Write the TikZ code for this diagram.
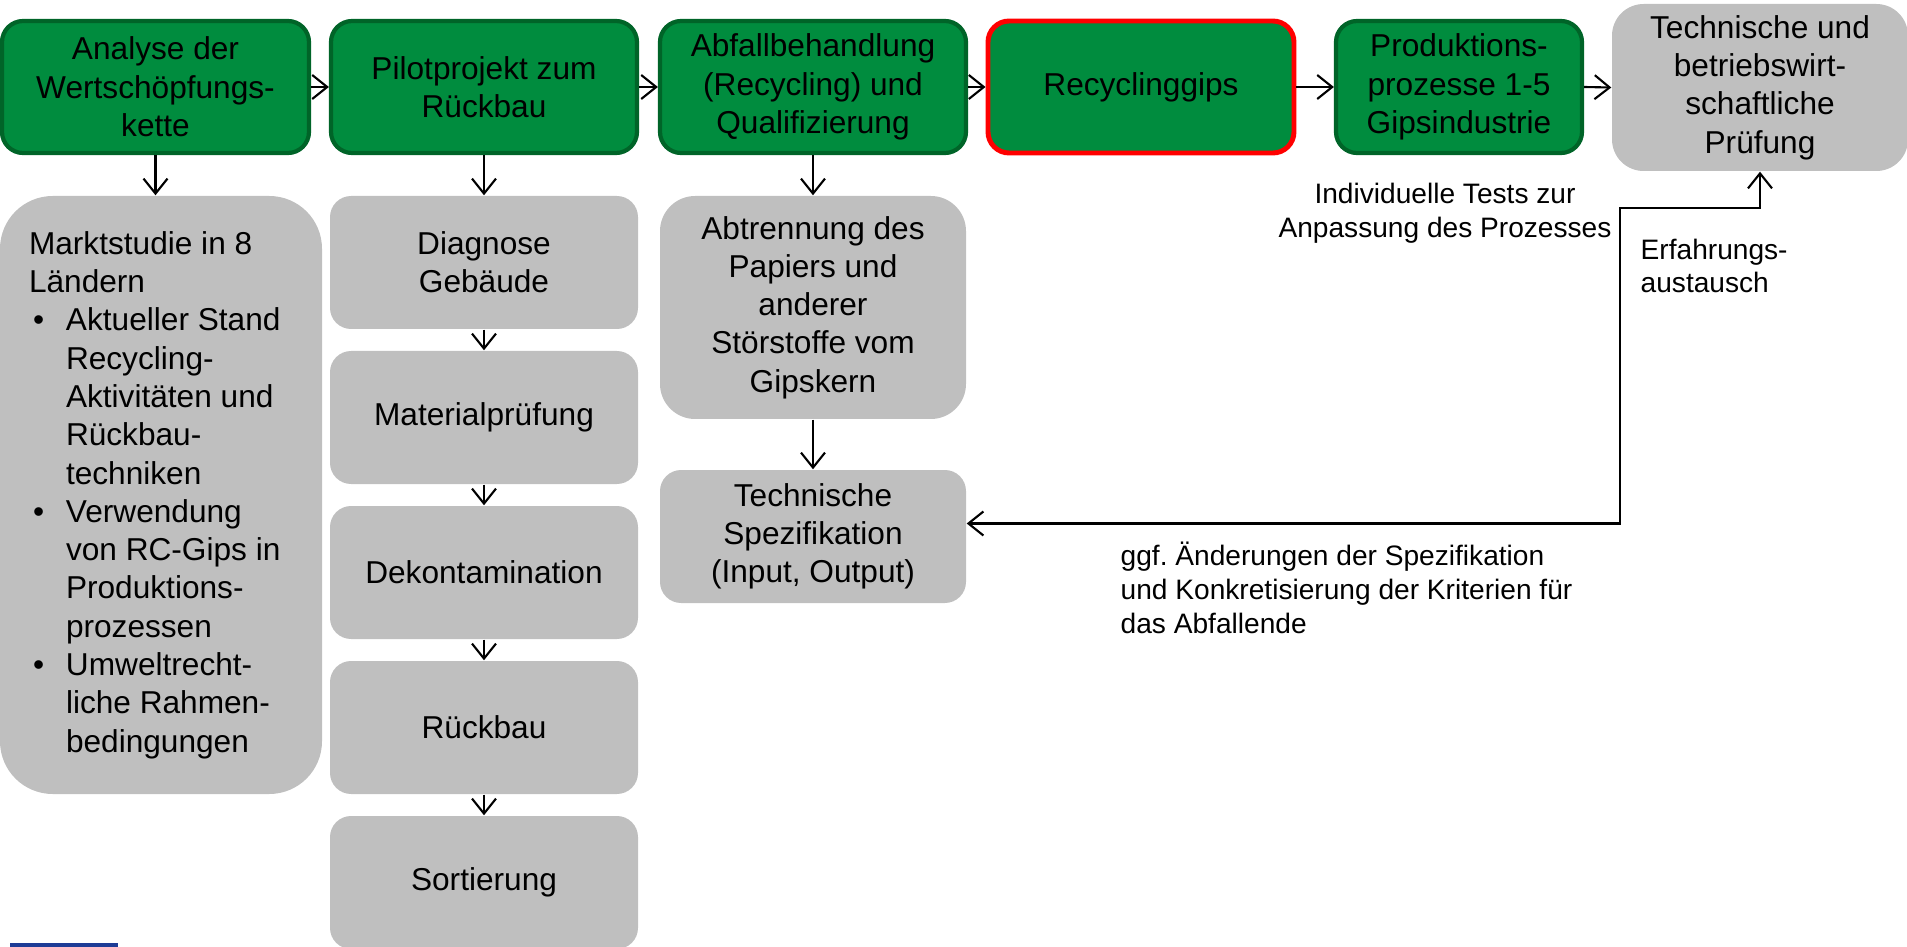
\documentclass[tikz,border=0pt]{standalone}
\usepackage{fontspec}
\setmainfont{Liberation Sans}
\usepackage{tikz}
\usetikzlibrary{arrows.meta, positioning}
\definecolor{procgreen}{RGB}{0, 140, 62}
\definecolor{procdark}{RGB}{0, 100, 40}
\definecolor{infogray}{RGB}{191, 191, 191}
\definecolor{markred}{RGB}{255, 0, 0}
\definecolor{barblue}{RGB}{30, 60, 150}
\newcommand{\mktitem}{\hspace*{0.04cm}\makebox[0.33cm][l]{\textbullet}}
\newcommand{\mktcont}{\hspace*{0.37cm}}

\begin{document}
\begin{tikzpicture}[
  font=\fontsize{9}{10.9}\selectfont,
  procbox/.style={draw=procdark, line width=1.2pt, fill=procgreen, rounded corners=6pt, minimum width=3.06cm, minimum height=1.32cm, align=center, inner sep=2pt},
  infobox/.style={fill=infogray, rounded corners=6pt, minimum width=3.08cm, minimum height=1.33cm, align=center, inner sep=2pt},
  note/.style={font=\fontsize{8}{9.6}\selectfont, inner sep=0pt},
  link/.style={line width=0.6pt, -{Straight Barb[length=1.5mm, width=2.4mm]}},
  linkboth/.style={line width=0.6pt, {Straight Barb[length=1.5mm, width=2.4mm]}-{Straight Barb[length=1.5mm, width=2.4mm]}}
]
  \path[use as bounding box, clip] (0,0) rectangle (19.07,-9.47);

  % Process chain
  \node[procbox, minimum width=3.07cm] (ana) at (1.555,-0.87) {Analyse der\\Wertschöpfungs-\\kette};
  \node[procbox] (pil) at (4.84,-0.87) {Pilotprojekt zum\\Rückbau};
  \node[procbox] (abf) at (8.13,-0.87) {Abfallbehandlung\\(Recycling) und\\Qualifizierung};
  \node[procbox, draw=markred, line width=1.4pt] (rcg) at (11.41,-0.87) {Recyclinggips};
  \node[procbox, minimum width=2.46cm] (pro) at (14.59,-0.87) {Produktions-\\prozesse 1-5\\Gipsindustrie};
  \node[infobox, minimum width=2.96cm, minimum height=1.67cm, rounded corners=9pt] (prf) at (17.60,-0.875) {Technische und\\betriebswirt-\\schaftliche\\Prüfung};

  % Market study
  \node[infobox, minimum width=3.22cm, minimum height=5.98cm, rounded corners=15pt, text width=2.64cm, inner xsep=0.29cm, align=flush left] (mkt) at (1.61,-4.95) {
    Marktstudie in 8\\
    Ländern\\
    \mktitem Aktueller Stand\\
    \mktcont Recycling-\\
    \mktcont Aktivitäten und\\
    \mktcont Rückbau-\\
    \mktcont techniken\\
    \mktitem Verwendung\\
    \mktcont von RC-Gips in\\
    \mktcont Produktions-\\
    \mktcont prozessen\\
    \mktitem Umweltrecht-\\
    \mktcont liche Rahmen-\\
    \mktcont bedingungen};

  % Pilot steps
  \node[infobox] (dia) at (4.84,-2.625) {Diagnose\\Gebäude};
  \node[infobox] (mat) at (4.84,-4.175) {Materialprüfung};
  \node[infobox] (dek) at (4.84,-5.725) {Dekontamination};
  \node[infobox] (rue) at (4.84,-7.275) {Rückbau};
  \node[infobox] (sor) at (4.84,-8.825) {Sortierung};

  % Treatment
  \node[infobox, minimum width=3.06cm, minimum height=2.23cm, rounded corners=10pt] (abt) at (8.13,-3.075) {Abtrennung des\\Papiers und\\anderer\\Störstoffe vom\\Gipskern};
  \node[infobox, minimum width=3.06cm] (spz) at (8.13,-5.365) {Technische\\Spezifikation\\(Input, Output)};

  % Arrows
  \foreach \a/\b in {ana/pil, pil/abf, abf/rcg, rcg/pro, pro/prf}
    \draw[link] (\a.east) -- (\b.west);
  \draw[link] (ana.south) -- (ana.south |- mkt.north);
  \foreach \a/\b in {pil/dia, dia/mat, mat/dek, dek/rue, rue/sor, abf/abt, abt/spz}
    \draw[link] (\a.south) -- (\b.north);

  % Feedback loop
  \coordinate (fbk) at (16.20,-2.08);
  \draw[linkboth] ([yshift=0.13cm]spz.east) -| (fbk) -| (prf.south);

  % Notes
  \node[note, align=center] (tst) at (14.45,-2.13) {Individuelle Tests zur\\Anpassung des Prozesses};
  \node[note, align=flush left, anchor=west] (erf) at (16.40,-2.66) {Erfahrungs-\\austausch};
  \node[note, align=flush left, anchor=west] (chg) at (11.20,-5.88) {ggf.\ Änderungen der Spezifikation\\und Konkretisierung der Kriterien für\\das Abfallende};

  % Bottom bar
  \fill[barblue] (0.10,-9.43) rectangle (1.18,-9.50);
\end{tikzpicture}
\end{document}
